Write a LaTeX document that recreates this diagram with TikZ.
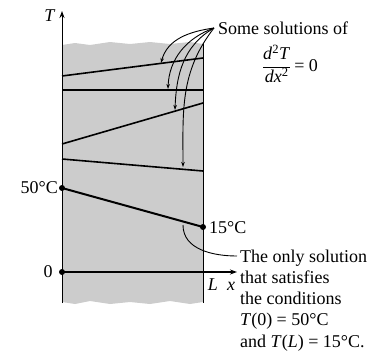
\documentclass[tikz,border=0pt]{standalone}
\usepackage{fontspec}
\setmainfont{Liberation Serif}
\usetikzlibrary{arrows.meta}
\begin{document}
\begin{tikzpicture}[x=1pt,y=-1pt,
  lbl/.style={inner sep=0pt, font=\fontsize{18}{21}\selectfont},
  sol/.style={line width=1.6pt},
  wall/.style={line width=1pt},
  ptr/.style={line width=0.9pt, -{Stealth[length=5pt,width=3.5pt]}},
  dot/.style={circle, fill=black, inner sep=0pt, minimum size=6pt}]
\useasboundingbox (0,0) rectangle (386,351);
% stippled slab
\fill[black!20] (62,45) -- (75,43) -- (90,45) -- (110,42) -- (130,44) -- (150,42) -- (170,44) -- (190,42) -- (203,44)
  -- (203,302) -- (190,304) -- (170,301) -- (150,304) -- (130,302) -- (110,304) -- (90,301) -- (75,304) -- (62,302) -- cycle;
% coordinates
\coordinate (ttop) at (62,11);
\coordinate (wbot) at (62,303);
\coordinate (rtop) at (203,43);
\coordinate (rbot) at (203,303);
\coordinate (a0) at (62,76);  \coordinate (a1) at (203,58);
\coordinate (b0) at (62,90);  \coordinate (b1) at (203,90);
\coordinate (c0) at (62,144); \coordinate (c1) at (203,103);
\coordinate (d0) at (62,159); \coordinate (d1) at (203,171);
\coordinate (xend) at (237,272);
\node[dot] (p50) at (62,188) {};
\node[dot] (p15) at (203,227) {};
\node[dot] (p0) at (62,272) {};
% walls and axes
\draw[wall,-{Stealth[length=7pt,width=5pt]}] (wbot) -- (ttop);
\draw[wall] (rtop) -- (rbot);
\draw[sol,-{Stealth[length=7pt,width=5pt]}] (p0.center) -- (xend);
% solutions
\draw[sol] (a0) -- (a1);
\draw[sol] (b0) -- (b1);
\draw[sol] (c0) -- (c1);
\draw[sol] (d0) -- (d1);
\draw[line width=2pt] (p50.center) -- (p15.center);
% labels
\node[lbl, anchor=east] (l50) at (58,188) {50°C};
\node[lbl, anchor=west] (l15) at (209,228) {15°C};
\node[lbl] (l0) at (48,272) {0};
\node[lbl] (lT) at (50,16) {\textit{T}};
\node[lbl, anchor=base] (lL) at (213,290) {\textit{L}};
\node[lbl, anchor=base] (lx) at (231,290) {\textit{x}};
\node[lbl, anchor=base west] (some) at (218,34) {Some solutions of};
\node[lbl] (frac) at (290,64) {$\displaystyle\frac{\hbox{\textit{d}\textsuperscript{2}\textit{T}}}{\hbox{\textit{dx}\textsuperscript{2}}}$\,= 0};
% pointers to some solutions
\coordinate (src) at (214,28);
\coordinate (ta) at (161,63);
\coordinate (tb) at (168,89);
\coordinate (tc) at (175,110);
\coordinate (td) at (183,167);
\draw[ptr] (src) to[out=188,in=75] (ta);
\draw[ptr] (src) to[out=200,in=88] (tb);
\draw[ptr] (src) to[out=210,in=88] (tc);
\draw[ptr] (src) to[out=232,in=90] (td);
% only solution
\coordinate (os) at (183,225);
\coordinate (oe) at (237,256);
\draw[line width=0.9pt] (os) to[out=-90,in=180] (oe);
\node[lbl, anchor=base west] (o1) at (240,262) {The only solution};
\node[lbl, anchor=base west] (o2) at (240,283.3) {that satisfies};
\node[lbl, anchor=base west] (o3) at (240,304.6) {the conditions};
\node[lbl, anchor=base west] (o4) at (240,325.9) {\textit{T}(0) = 50°C};
\node[lbl, anchor=base west] (o5) at (240,347.2) {and \textit{T}(\textit{L}) = 15°C.};
\end{tikzpicture}
\end{document}
